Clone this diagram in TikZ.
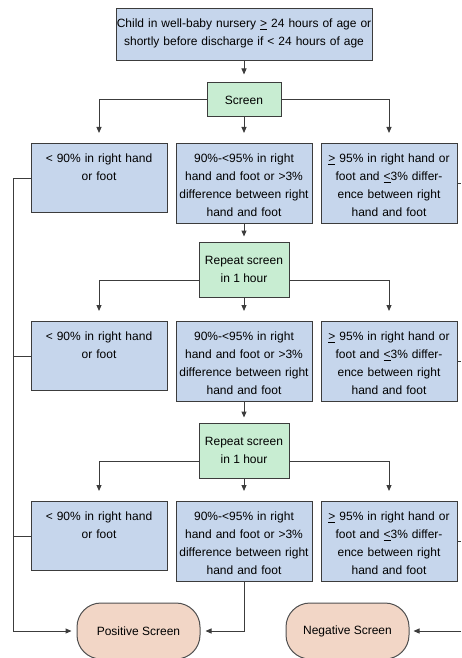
\documentclass[tikz,border=0pt]{standalone}
\usepackage{fontspec}
\setmainfont{Liberation Sans}
\usetikzlibrary{arrows.meta}
\definecolor{boxblue}{RGB}{198,214,236}
\definecolor{boxgreen}{RGB}{200,237,210}
\definecolor{boxpeach}{RGB}{242,214,198}
\definecolor{edgegray}{RGB}{60,60,60}
\begin{document}
\begin{tikzpicture}[x=1pt,y=-1pt,
    box/.style={draw=edgegray,line width=1pt,fill=boxblue,align=center,
      font=\fontsize{12}{18}\selectfont,text width=130pt,inner xsep=3pt,
      inner ysep=8pt,text height=11pt,anchor=north},
    shortbox/.style={box,text depth=42pt},
    tallbox/.style={box,text depth=53pt},
    screenbox/.style={draw=edgegray,line width=1pt,fill=boxgreen,align=center,
      font=\fontsize{12}{18}\selectfont,inner sep=0pt},
    endbox/.style={draw=edgegray!90,line width=1pt,fill=boxpeach,rounded corners=24pt,
      font=\fontsize{12}{18}\selectfont,minimum width=123pt,minimum height=56pt},
    link/.style={draw=edgegray,line width=1pt},
    arr/.style={link,-{Triangle[length=6pt,width=5pt]}}]
    \useasboundingbox (0,0) rectangle (461,658);
    \clip (0,0) rectangle (461,658);
    \coordinate (rail) at (13,0);
    \coordinate (edge) at (461,0);
    % start and first screen
    \node[box,text width=256pt,inner xsep=0pt,text depth=25pt] (start) at (244,8)
      {Child in well-baby nursery \underline{>} 24 hours of age or\\shortly before discharge if < 24 hours of age};
    \node[screenbox,minimum width=74pt,minimum height=34pt] (screen) at (244,100) {Screen};
    \node[shortbox] (b1l) at (99,143) {< 90\% in right hand\\or foot};
    \node[tallbox] (b1m) at (244,143) {90\%-<95\% in right\\hand and foot or >3\%\\difference between right\\hand and foot};
    \node[tallbox] (b1r) at (389,143) {\underline{>} 95\% in right hand or\\foot and \underline{<}3\% differ-\\ence between right\\hand and foot};
    % first repeat
    \node[screenbox,minimum width=90pt,minimum height=55pt] (rep1) at (244,269.5) {Repeat screen\\in 1 hour};
    \node[shortbox] (b2l) at (99,321) {< 90\% in right hand\\or foot};
    \node[tallbox] (b2m) at (244,321) {90\%-<95\% in right\\hand and foot or >3\%\\difference between right\\hand and foot};
    \node[tallbox] (b2r) at (389,321) {\underline{>} 95\% in right hand or\\foot and \underline{<}3\% differ-\\ence between right\\hand and foot};
    % second repeat
    \node[screenbox,minimum width=90pt,minimum height=55pt] (rep2) at (244,450.5) {Repeat screen\\in 1 hour};
    \node[shortbox] (b3l) at (99,501) {< 90\% in right hand\\or foot};
    \node[tallbox] (b3m) at (244,501) {90\%-<95\% in right\\hand and foot or >3\%\\difference between right\\hand and foot};
    \node[tallbox] (b3r) at (389,501) {\underline{>} 95\% in right hand or\\foot and \underline{<}3\% differ-\\ence between right\\hand and foot};
    % outcomes
    \node[endbox] (pos) at (138.5,631) {Positive Screen};
    \node[endbox] (neg) at (347.5,631) {Negative Screen};

    \draw[arr,shorten >=8pt] (start) -- (screen);
    \draw[arr,shorten >=10pt] (screen) -| (b1l);
    \draw[arr,shorten >=10pt] (screen) -- (b1m);
    \draw[arr,shorten >=10pt] (screen) -| (b1r);
    \draw[arr,shorten >=5pt] (b1m) -- (rep1);
    \draw[arr,shorten >=10pt] ([yshift=-11pt]rep1.west) -| (b2l);
    \draw[arr,shorten >=10pt] (rep1) -- (b2m);
    \draw[arr,shorten >=10pt] ([yshift=-11pt]rep1.east) -| (b2r);
    \draw[arr,shorten >=5pt] (b2m) -- (rep2);
    \draw[arr,shorten >=10pt] ([yshift=-11pt]rep2.west) -| (b3l);
    \draw[arr,shorten >=10pt] (rep2) -- (b3m);
    \draw[arr,shorten >=10pt] ([yshift=-11pt]rep2.east) -| (b3r);
    % to the outcomes
    \draw[arr,shorten >=5pt] (b1l.west) -- (b1l.west -| rail) |- (pos.west);
    \draw[link] (b2l.west) -- (b2l.west -| rail);
    \draw[link] (b3l.west) -- (b3l.west -| rail);
    \draw[arr,shorten >=5pt] (b3m) |- (pos.east);
    \draw[link] (b1r.east) -- (b1r.east -| edge);
    \draw[link] (b2r.east) -- (b2r.east -| edge);
    \draw[link] (b3r.east) -- (b3r.east -| edge);
    \draw[arr,shorten >=4pt] (neg.east -| edge) -- (neg.east);
\end{tikzpicture}
\end{document}
